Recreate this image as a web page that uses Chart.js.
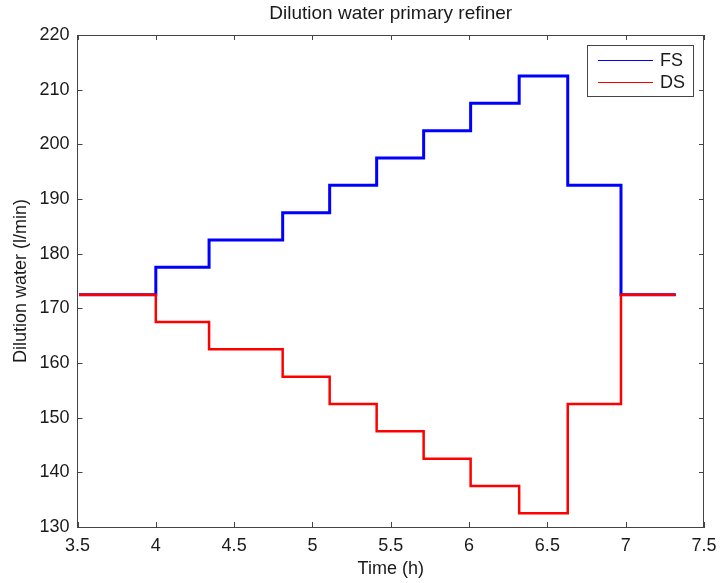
<!DOCTYPE html>
<html>
<head>
<meta charset="utf-8">
<script src="https://cdn.jsdelivr.net/npm/chart.js@4.4.1/dist/chart.umd.min.js"></script>
<style>
  html, body { margin: 0; padding: 0; background: #fff; }
  canvas { display: block; }
</style>
</head>
<body>
<canvas id="dilutionChart" width="720" height="583"></canvas>
<script>
// Tick labels
const xTicks = [3.5, 4, 4.5, 5, 5.5, 6, 6.5, 7, 7.5];
const yTicks = [130, 140, 150, 160, 170, 180, 190, 200, 210, 220];

// Step times (h); first is start, last is end of the record
const stepTimes = [3.51, 4.00, 4.34, 4.81, 5.11, 5.41, 5.71, 6.01, 6.32, 6.63, 6.97, 7.32];

// Dilution water level (l/min) held from each step time on
const fsFlow = [172.5, 177.5, 182.5, 187.5, 192.5, 197.5, 202.5, 207.5, 212.5, 192.5, 172.5, 172.5];
const dsFlow = [172.5, 167.5, 162.5, 157.5, 152.5, 147.5, 142.5, 137.5, 132.5, 152.5, 172.5, 172.5];

const seriesNames = ['FS', 'DS'];
const seriesColors = ['#0000ff', '#ff0000'];

const FONT = 'Liberation Sans, Arial, Helvetica, sans-serif';
const TEXT_COLOR = '#1a1a1a';
const AXIS_COLOR = '#444444';

function toPoints(times, values) {
    return times.map(function(t, i) { return { x: t, y: values[i] }; });
}

// MATLAB style box: top/right edges, inward ticks, title and legend
const matlabBox = {
    id: 'matlabBox',
    afterDraw: function(chart) {
        const ctx = chart.ctx;
        const area = chart.chartArea;
        const xs = chart.scales.x;
        const ys = chart.scales.y;
        const tickLen = 5;

        ctx.save();
        ctx.strokeStyle = AXIS_COLOR;
        ctx.lineWidth = 1;
        ctx.beginPath();
        ctx.moveTo(area.left, area.top + 0.5);
        ctx.lineTo(area.right, area.top + 0.5);
        ctx.moveTo(area.right - 0.5, area.top);
        ctx.lineTo(area.right - 0.5, area.bottom);
        xTicks.forEach(function(v) {
            const px = Math.round(xs.getPixelForValue(v)) + 0.5;
            ctx.moveTo(px, area.bottom);
            ctx.lineTo(px, area.bottom - tickLen);
            ctx.moveTo(px, area.top);
            ctx.lineTo(px, area.top + tickLen);
        });
        yTicks.forEach(function(v) {
            const py = Math.round(ys.getPixelForValue(v)) + 0.5;
            ctx.moveTo(area.left, py);
            ctx.lineTo(area.left + tickLen, py);
            ctx.moveTo(area.right, py);
            ctx.lineTo(area.right - tickLen, py);
        });
        ctx.stroke();

        // title, centred over the axes
        ctx.fillStyle = TEXT_COLOR;
        ctx.font = '19px ' + FONT;
        ctx.textAlign = 'center';
        ctx.textBaseline = 'middle';
        ctx.fillText('Dilution water primary refiner', (area.left + area.right) / 2, 14);

        // legend box in the upper right corner
        const boxRight = area.right - 10;
        const boxLeft = boxRight - 107;
        const boxTop = area.top + 10;
        const boxBottom = boxTop + 52;
        ctx.fillStyle = '#ffffff';
        ctx.fillRect(boxLeft, boxTop, boxRight - boxLeft, boxBottom - boxTop);
        ctx.strokeStyle = AXIS_COLOR;
        ctx.strokeRect(boxLeft + 0.5, boxTop + 0.5, boxRight - boxLeft - 1, boxBottom - boxTop - 1);

        ctx.textAlign = 'left';
        ctx.font = '18px ' + FONT;
        chart.data.datasets.forEach(function(ds, i) {
            const y = boxTop + 15 + i * 22;
            ctx.strokeStyle = ds.borderColor;
            ctx.beginPath();
            ctx.moveTo(boxLeft + 11, y + 0.5);
            ctx.lineTo(boxLeft + 66, y + 0.5);
            ctx.stroke();
            ctx.fillStyle = TEXT_COLOR;
            ctx.fillText(ds.label, boxLeft + 73, y + 1);
        });
        ctx.restore();
    }
};

const ctx = document.getElementById('dilutionChart').getContext('2d');

const dilutionChart = new Chart(ctx, {
    type: 'line',
    data: {
        datasets: [
            {
                label: seriesNames[0],
                data: toPoints(stepTimes, fsFlow),
                borderColor: seriesColors[0],
                borderWidth: 3,
                stepped: 'before',
                pointRadius: 0,
                fill: false,
                order: 2
            },
            {
                label: seriesNames[1],
                data: toPoints(stepTimes, dsFlow),
                borderColor: seriesColors[1],
                borderWidth: 2.5,
                stepped: 'before',
                pointRadius: 0,
                fill: false,
                order: 1
            }
        ]
    },
    options: {
        responsive: false,
        animation: false,
        layout: {
            padding: { top: 35, right: 16, bottom: 0, left: 0 }
        },
        plugins: {
            legend: { display: false },
            title: { display: false },
            tooltip: { enabled: false }
        },
        scales: {
            x: {
                type: 'linear',
                min: 3.5,
                max: 7.5,
                afterBuildTicks: function(scale) {
                    scale.ticks = xTicks.map(function(v) { return { value: v }; });
                },
                afterFit: function(scale) {
                    scale.height = 56;
                    scale.paddingLeft = 0;
                    scale.paddingRight = 0;
                },
                grid: { display: false, drawTicks: false },
                border: { display: true, color: AXIS_COLOR, width: 1 },
                ticks: {
                    font: { family: FONT, size: 18 },
                    color: TEXT_COLOR,
                    padding: 8,
                    maxRotation: 0,
                    autoSkip: false,
                    callback: function(v) { return String(v); }
                },
                title: {
                    display: true,
                    text: 'Time (h)',
                    font: { family: FONT, size: 18 },
                    color: TEXT_COLOR,
                    padding: { top: 4, bottom: 3 }
                }
            },
            y: {
                min: 130,
                max: 220,
                afterBuildTicks: function(scale) {
                    scale.ticks = yTicks.map(function(v) { return { value: v }; });
                },
                afterFit: function(scale) {
                    scale.width = 77.5;
                    scale.paddingTop = 0;
                    scale.paddingBottom = 0;
                },
                grid: { display: false, drawTicks: false },
                border: { display: true, color: AXIS_COLOR, width: 1 },
                ticks: {
                    font: { family: FONT, size: 18 },
                    color: TEXT_COLOR,
                    padding: 8,
                    autoSkip: false,
                    callback: function(v) { return String(v); }
                },
                title: {
                    display: true,
                    text: 'Dilution water (l/min)',
                    font: { family: FONT, size: 18 },
                    color: TEXT_COLOR,
                    padding: { top: 10, bottom: 10 }
                }
            }
        }
    },
    plugins: [matlabBox]
});
</script>
</body>
</html>
